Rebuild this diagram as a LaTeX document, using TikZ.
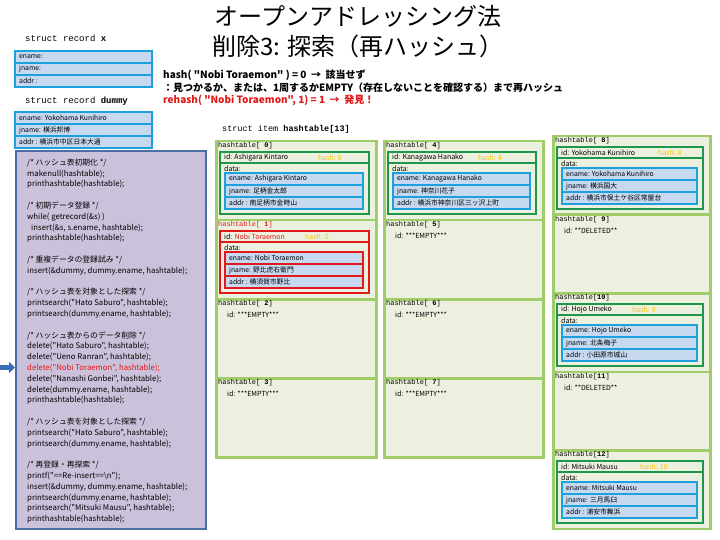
\documentclass[tikz,border=0pt]{standalone}
\usepackage{fontspec}
\setmainfont{Noto Sans CJK JP}[Ligatures=TeXOff]
\newfontfamily\monof{Liberation Mono}[Ligatures=TeXOff]
\usetikzlibrary{arrows.meta,calc}
\definecolor{cellfill}{RGB}{235,241,222}
\definecolor{cellline}{RGB}{160,205,105}
\definecolor{dkgreen}{RGB}{30,150,75}
\definecolor{bluef}{RGB}{30,160,220}
\definecolor{rowfill}{RGB}{198,217,241}
\definecolor{codefill}{RGB}{204,193,218}
\definecolor{codeline}{RGB}{75,110,165}
\definecolor{redc}{RGB}{225,25,25}
\definecolor{hashc}{RGB}{255,192,0}
\definecolor{arrowc}{RGB}{60,110,180}
\tikzset{
 cellbox/.style={draw=cellline, fill=cellfill, line width=2.5pt, rectangle, anchor=north west, inner sep=0pt},
 lbl/.style={font=\monof\fontsize{7}{8}\selectfont, inner sep=0pt, anchor=west},
 idtxt/.style={font=\fontsize{7}{8}\selectfont, inner sep=0pt, anchor=west},
 rowtxt/.style={font=\fontsize{6.8}{8}\selectfont, inner sep=0pt, anchor=west},
 headtxt/.style={font=\monof\fontsize{9}{10}\selectfont, inner sep=0pt, anchor=west},
 hashl/.style={font=\bfseries\fontsize{10}{12}\selectfont, inner sep=0pt, anchor=west},
 codebox/.style={draw=codeline, fill=codefill, line width=2pt, rectangle, anchor=north west, inner sep=0pt},
 codetxt/.style={font=\fontsize{7.8}{10.8}\selectfont, inner sep=0pt, anchor=north west, align=left}
}
\newcommand{\hcell}[6]{%
 \node[cellbox, minimum width=#4pt, minimum height=#5pt] (#1) at (#2,#3) {};
 \node[lbl] (#1l) at ({#2+3},{#3+6}) {#6};
}
\newcommand{\emptyid}[4]{%
 \node[idtxt] (#1) at ({#2+12},{#3+17}) {id: #4};
}
\newcommand{\occ}[8]{%
 \draw[draw=#5, line width=2.5pt] ({#2+5},{#3+12}) rectangle ({#2+#4-6},{#3+74});
 \draw[draw=#5, line width=1.5pt] ({#2+5},{#3+23}) -- ({#2+#4-6},{#3+23});
 \node[idtxt] (#1i) at ({#2+9},{#3+17.5}) {id: #6};
 \node[idtxt, text=hashc] (#1h) at ({#2+#8},{#3+17.5}) {hash: #7};
 \node[idtxt] (#1d) at ({#2+9},{#3+28.5}) {data:};
}
\newcommand{\recrows}[8]{%
 \fill[rowfill] (#2,#3) rectangle ({#2+#4},{#3+36});
 \draw[draw=#5, line width=1.2pt] (#2,{#3+12}) -- ({#2+#4},{#3+12}) (#2,{#3+24}) -- ({#2+#4},{#3+24});
 \draw[draw=#5, line width=2.5pt] (#2,#3) rectangle ({#2+#4},{#3+36});
 \node[rowtxt] (#1e) at ({#2+4},{#3+6}) {ename: #6};
 \node[rowtxt] (#1j) at ({#2+4},{#3+18}) {jname: #7};
 \node[rowtxt] (#1a) at ({#2+4},{#3+30}) {addr : #8};
}
\begin{document}
\begin{tikzpicture}[x=1pt,y=-1pt]
\useasboundingbox[fill=white] (0,0) rectangle (720,540);

% title
\node[font=\fontsize{24}{30}\selectfont, align=center, inner sep=0pt] (title) at (358,32) {オープンアドレッシング法\\削除3: 探索（再ハッシュ）};

% record structs
\node[headtxt] (sx) at (25,38) {struct record \textbf{x}};
\recrows{rx}{15}{51}{137}{bluef}{}{}{}
\node[headtxt] (sd) at (25,101) {struct record \textbf{dummy}};
\recrows{rd}{15}{112}{137}{bluef}{Yokohama Kunihiro}{横浜邦博}{横浜市中区日本大通}

% hash lines
\node[hashl] (h1) at (163,75) {hash( "Nobi Toraemon" ) = 0 \ → \ 該当せず};
\node[hashl] (h2) at (163,87.5) {：見つかるか、または、1周するかEMPTY（存在しないことを確認する）まで再ハッシュ};
\node[hashl, text=redc] (h3) at (163,100) {rehash( "Nobi Toraemon", 1) = 1 \ → \ 発見！};

% code
\node[codebox, minimum width=190pt, minimum height=378pt] (code) at (15,150) {};
\node[codetxt] (codet) at (27,158.5) {%
/* ハッシュ表初期化 */\\
makenull(hashtable);\\
printhashtable(hashtable);\\[10.8pt]
/* 初期データ登録 */\\
while( getrecord(\&s) )\\
\hspace{4pt}insert(\&s, s.ename, hashtable);\\
printhashtable(hashtable);\\[10.8pt]
/* 重複データの登録試み */\\
insert(\&dummy, dummy.ename, hashtable);\\[10.8pt]
/* ハッシュ表を対象とした探索 */\\
printsearch("Hato Saburo", hashtable);\\
printsearch(dummy.ename, hashtable);\\[10.8pt]
/* ハッシュ表からのデータ削除 */\\
delete("Hato Saburo", hashtable);\\
delete("Ueno Ranran", hashtable);\\
\textcolor{redc}{delete("Nobi Toraemon", hashtable);}\\
delete("Nanashi Gonbei", hashtable);\\
delete(dummy.ename, hashtable);\\
printhashtable(hashtable);\\[10.8pt]
/* ハッシュ表を対象とした探索 */\\
printsearch("Hato Saburo", hashtable);\\
printsearch(dummy.ename, hashtable);\\[10.8pt]
/* 再登録・再探索 */\\
printf("==Re-insert==\textbackslash n");\\
insert(\&dummy, dummy.ename, hashtable);\\
printsearch(dummy.ename, hashtable);\\
printsearch("Mitsuki Mausu", hashtable);\\
printhashtable(hashtable);};

% arrow
\coordinate (arr) at (0,367.5);
\draw[arrowc, line width=4.5pt, -{Triangle[length=6pt,width=11pt]}] (arr) -- (arr -| code.west);

% hashtable title
\node[font=\monof\fontsize{8.5}{10}\selectfont, inner sep=0pt, anchor=west] (ht) at (222,129) {struct item \textbf{hashtable[13]}};

% column 1
\hcell{c0}{215}{140}{160}{79}{hashtable[\textbf{ 0}]}
\occ{c0}{215}{140}{160}{dkgreen}{Ashigara Kintaro}{0}{103}
\recrows{c0r}{225}{173}{138}{bluef}{Ashigara Kintaro}{足柄金太郎}{南足柄市金時山}
\hcell{c1}{215}{219}{160}{79}{\textcolor{redc}{hashtable[\textbf{ 1}]}}
\occ{c1}{215}{219}{160}{redc}{\textcolor{redc}{Nobi Toraemon}}{0}{90}
\recrows{c1r}{225}{252}{138}{redc}{Nobi Toraemon}{野比虎右衛門}{横須賀市野比}
\hcell{c2}{215}{298}{160}{79}{hashtable[\textbf{ 2}]}
\emptyid{c2i}{215}{298}{***EMPTY***}
\hcell{c3}{215}{377}{160}{79}{hashtable[\textbf{ 3}]}
\emptyid{c3i}{215}{377}{***EMPTY***}

% column 2
\hcell{c4}{383}{140}{159}{79}{hashtable[\textbf{ 4}]}
\occ{c4}{383}{140}{159}{dkgreen}{Kanagawa Hanako}{4}{95}
\recrows{c4r}{393}{173}{137}{bluef}{Kanagawa Hanako}{神奈川花子}{横浜市神奈川区三ッ沢上町}
\hcell{c5}{383}{219}{159}{79}{hashtable[\textbf{ 5}]}
\emptyid{c5i}{383}{219}{***EMPTY***}
\hcell{c6}{383}{298}{159}{79}{hashtable[\textbf{ 6}]}
\emptyid{c6i}{383}{298}{***EMPTY***}
\hcell{c7}{383}{377}{159}{79}{hashtable[\textbf{ 7}]}
\emptyid{c7i}{383}{377}{***EMPTY***}

% column 3
\hcell{c8}{552}{135}{157}{78.5}{hashtable[\textbf{ 8}]}
\occ{c8}{552}{135}{157}{dkgreen}{Yokohama Kunihiro}{8}{106}
\recrows{c8r}{562}{168}{135}{bluef}{Yokohama Kunihiro}{横浜国大}{横浜市保土ケ谷区常盤台}
\hcell{c9}{552}{213.5}{157}{78.5}{hashtable[\textbf{ 9}]}
\emptyid{c9i}{552}{213.5}{**DELETED**}
\hcell{c10}{552}{292}{157}{78.5}{hashtable[\textbf{10}]}
\occ{c10}{552}{292}{157}{dkgreen}{Hojo Umeko}{9}{80}
\recrows{c10r}{562}{325}{135}{bluef}{Hojo Umeko}{北条梅子}{小田原市城山}
\hcell{c11}{552}{370.5}{157}{78.5}{hashtable[\textbf{11}]}
\emptyid{c11i}{552}{370.5}{**DELETED**}
\hcell{c12}{552}{449}{157}{78.5}{hashtable[\textbf{12}]}
\occ{c12}{552}{449}{157}{dkgreen}{Mitsuki Mausu}{10}{88}
\recrows{c12r}{562}{482}{135}{bluef}{Mitsuki Mausu}{三月馬臼}{浦安市舞浜}
\end{tikzpicture}
\end{document}
